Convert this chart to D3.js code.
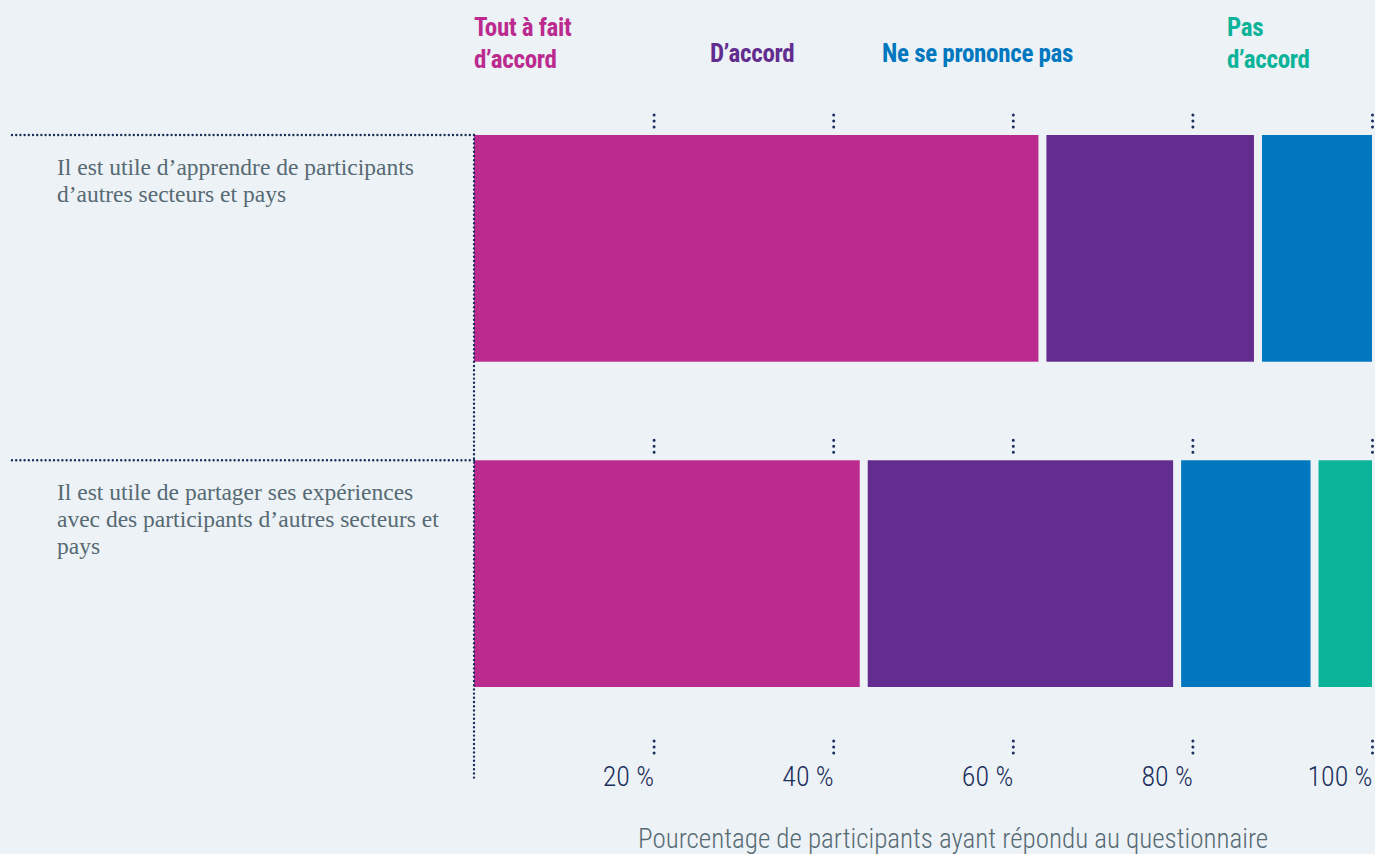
<!DOCTYPE html>
<html><head><meta charset="utf-8">
<script src="https://cdn.jsdelivr.net/npm/d3@7"></script>
<style>
html,body{margin:0;padding:0;background:#edf2f6;}
svg{display:block;}
.cond{font-family:"Liberation Sans Narrow","Roboto Condensed","DejaVu Sans Condensed",sans-serif;font-stretch:condensed;}
.serif{font-family:"Liberation Serif","DejaVu Serif",serif;}
</style></head>
<body><svg id="c" width="1375" height="854"></svg>
<script>
// ---- data ----
const categories = [
  ["Il est utile d’apprendre de participants", "d’autres secteurs et pays"],
  ["Il est utile de partager ses expériences", "avec des participants d’autres secteurs et", "pays"]
];
const seriesNames = [["Tout à fait", "d’accord"], ["D’accord"], ["Ne se prononce pas"], ["Pas", "d’accord"]];
const toutAFait  = [63.3, 43.4];
const dAccord    = [24.0, 34.9];
const neSePrononce = [12.7, 15.3];
const pasDAccord = [0, 6.4];
const tickValues = [20, 40, 60, 80, 100];
const axisTitle = "Pourcentage de participants ayant répondu au questionnaire";

// ---- style / layout ----
const colors = ["#bb2b8f", "#632c8f", "#0077bf", "#0bb398"];
const navy = "#1b2e5c";
const gray = "#566a74";
const legendX = [474, 710, 882, 1227];

const svg = d3.select("#c");
const x = d3.scaleLinear().domain([0, 100]).range([474, 1372]);
const y = d3.scaleBand().domain(d3.range(categories.length)).range([135, 687]).paddingInner(0.303).paddingOuter(0);

const series = [toutAFait, dAccord, neSePrononce, pasDAccord];
const rows = categories.map((c, i) => {
  let acc = 0;
  return series.map((s, k) => { const seg = {row: i, k, x0: acc, x1: acc + s[i]}; acc += s[i]; return seg; });
});

// legend
seriesNames.forEach((lines, k) => {
  const t = svg.append("text").attr("class", "cond").attr("fill", colors[k])
    .attr("font-weight", "bold").attr("font-size", 25).attr("letter-spacing", -0.3).attr("x", legendX[k]);
  if (lines.length === 2) {
    lines.forEach((l, j) => t.append("tspan").attr("x", legendX[k]).attr("y", 36 + j * 32).text(l));
  } else {
    t.attr("y", 62).text(lines[0]);
  }
});

// bars
const gap = 4;
rows.flat().filter(d => d.x1 - d.x0 > 0).forEach(d => {
  const xa = x(d.x0) + (d.x0 > 0 ? gap : 0);
  const xb = x(d.x1) - (d.x1 < 99.5 ? gap : 0);
  svg.append("rect").attr("x", xa).attr("y", y(d.row)).attr("width", xb - xa).attr("height", y.bandwidth())
    .attr("fill", colors[d.k]);
});

// dotted lines
const dotted = sel => sel.attr("stroke", navy).attr("stroke-width", 2.4).attr("stroke-linecap", "round").attr("stroke-dasharray", "0,4.2");
categories.forEach((c, i) => {
  svg.append("line").attr("x1", x(0)).attr("x2", 12).attr("y1", y(i)).attr("y2", y(i)).call(dotted);
});
svg.append("line").attr("x1", x(0)).attr("x2", x(0)).attr("y1", y(0)).attr("y2", 779).call(dotted);

// category labels
categories.forEach((lines, i) => {
  const t = svg.append("text").attr("class", "serif").attr("fill", gray).attr("font-size", 23.5);
  lines.forEach((l, j) => t.append("tspan").attr("x", 57).attr("y", y(i) + 40 + j * 27).text(l));
});

// tick dots above each row
const styleTicks = g => {
  g.select(".domain").remove();
  g.selectAll(".tick line").attr("stroke", navy).attr("stroke-width", 3)
    .attr("stroke-linecap", "round").attr("stroke-dasharray", "0,6");
};
categories.forEach((c, i) => {
  svg.append("g").attr("transform", `translate(0,${y(i) - 8})`)
    .call(d3.axisTop(x).tickValues(tickValues).tickSize(12.5).tickFormat(""))
    .call(styleTicks);
});

// bottom axis
const bottom = svg.append("g").attr("transform", "translate(0,741)")
  .call(d3.axisBottom(x).tickValues(tickValues).tickSize(12.5).tickFormat(d => d + " %"))
  .call(styleTicks);
bottom.selectAll(".tick text").attr("class", "cond").attr("fill", navy).attr("font-size", 28)
  .attr("font-weight", 300).attr("text-anchor", "end").attr("y", 45).attr("dy", 0);

// axis title
svg.append("text").attr("class", "cond").attr("fill", gray).attr("font-size", 27).attr("font-weight", 300)
  .attr("x", 638).attr("y", 848).text(axisTitle);
</script>
</body></html>
